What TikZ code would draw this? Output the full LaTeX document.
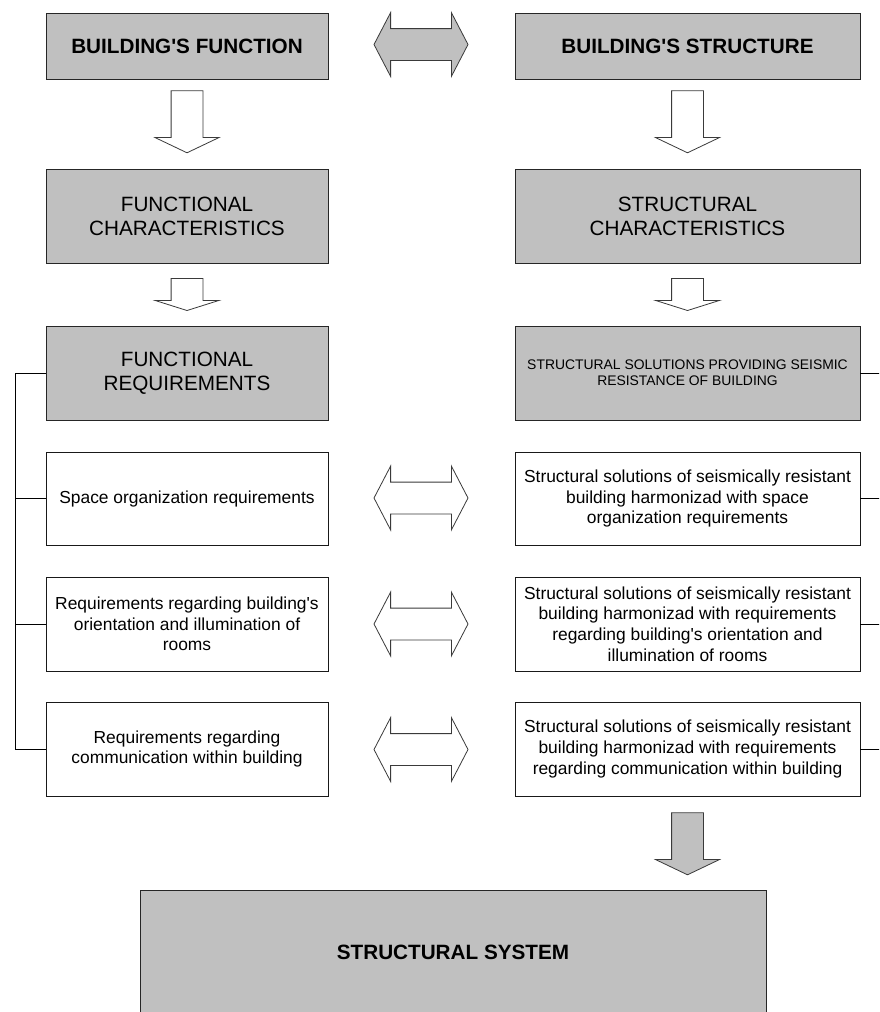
\documentclass[tikz,border=0pt]{standalone}
\usepackage{fontspec}
\setmainfont{Liberation Sans}
\usepackage{xcolor}
\usetikzlibrary{shapes.arrows}
\usetikzlibrary{positioning}

\definecolor{boxgray}{HTML}{C0C0C0}
\definecolor{edgegray}{HTML}{3A3A3A}

\begin{document}
\begin{tikzpicture}[x=1pt,y=-1pt]

	\tikzstyle{gbox} = [rectangle,draw=black!85,line width=0.9pt,fill=boxgray,align=center,inner sep=2pt]
	\tikzstyle{wbox} = [rectangle,draw=black!90,line width=0.9pt,fill=white,align=center,inner sep=2pt,font=\fontsize{17.4}{20.7}\selectfont]
	\tikzstyle{bigtxt} = [font=\fontsize{20.7}{24}\selectfont]
	\tikzstyle{boldtxt} = [font=\bfseries\fontsize{20.7}{24}\selectfont]
	\tikzstyle{downarr} = [single arrow,shape border rotate=270,draw=edgegray,line width=0.8pt,fill=white,inner xsep=15.5pt,inner ysep=0pt,single arrow head extend=16pt]
	\tikzstyle{sidearr} = [double arrow,draw=edgegray,line width=0.8pt,fill=white,inner xsep=0pt,inner ysep=15.5pt,minimum height=94pt,double arrow head extend=16pt,double arrow tip angle=125]
	\tikzstyle{link} = [line width=0.9pt,black]

	\path[use as bounding box,clip] (0,0) rectangle (879,1012);

	% top row
	\node[gbox,boldtxt,minimum width=282pt,minimum height=66pt] (bfun) at (187,46) {BUILDING\textquotesingle S FUNCTION};
	\node[gbox,boldtxt,minimum width=345pt,minimum height=66pt] (bstr) at (687.5,46) {BUILDING\textquotesingle S STRUCTURE};
	\node[sidearr,fill=boxgray] (a0) at (421,44.5) {};

	\node[downarr,minimum height=62pt,single arrow tip angle=129] (d1) at (187,118) {};
	\node[downarr,minimum height=62pt,single arrow tip angle=129] (d2) at (687.5,118) {};

	% characteristics
	\node[gbox,bigtxt,minimum width=282pt,minimum height=94pt] (fch) at (187,216) {FUNCTIONAL\\CHARACTERISTICS};
	\node[gbox,bigtxt,minimum width=345pt,minimum height=94pt] (sch) at (687.5,216) {STRUCTURAL\\CHARACTERISTICS};

	\node[downarr,minimum height=32pt,single arrow tip angle=145] (d3) at (187,292) {};
	\node[downarr,minimum height=32pt,single arrow tip angle=145] (d4) at (687.5,292) {};

	% requirements and solutions
	\node[gbox,bigtxt,minimum width=282pt,minimum height=94pt] (freq) at (187,373) {FUNCTIONAL\\REQUIREMENTS};
	\node[gbox,font=\fontsize{13.9}{15.7}\selectfont,minimum width=345pt,minimum height=94pt] (ssol) at (687.5,373) {STRUCTURAL SOLUTIONS PROVIDING SEISMIC\\RESISTANCE OF BUILDING};

	\node[wbox,minimum width=282pt,minimum height=93pt] (r1) at (187,498.5) {Space organization requirements};
	\node[wbox,minimum width=282pt,minimum height=94pt] (r2) at (187,624) {Requirements regarding building\textquotesingle s\\orientation and illumination of\\rooms};
	\node[wbox,minimum width=282pt,minimum height=94pt] (r3) at (187,749) {Requirements regarding\\communication within building};

	\node[wbox,minimum width=345pt,minimum height=93pt] (s1) at (687.5,498.5) {Structural solutions of seismically resistant\\building harmonizad with space\\organization requirements};
	\node[wbox,minimum width=345pt,minimum height=94pt] (s2) at (687.5,624) {Structural solutions of seismically resistant\\building harmonizad with requirements\\regarding building\textquotesingle s orientation and\\illumination of rooms};
	\node[wbox,minimum width=345pt,minimum height=94pt] (s3) at (687.5,749) {Structural solutions of seismically resistant\\building harmonizad with requirements\\regarding communication within building};

	\node[sidearr] (a1) at (421,498) {};
	\node[sidearr] (a2) at (421,624) {};
	\node[sidearr] (a3) at (421,749.5) {};

	% structural system
	\node[downarr,fill=boxgray,minimum height=62pt,single arrow tip angle=129] (d5) at (687.5,840) {};
	\node[gbox,boldtxt,minimum width=626pt,minimum height=124pt] (ssys) at (453,952) {STRUCTURAL SYSTEM};

	% brackets
	\coordinate (lb) at (15,373);
	\coordinate (rb) at (885,373);
	\draw[link] (freq.west) -- (lb) -- (lb |- r3.west) -- (r3.west);
	\draw[link] (r1.west) -- (r1.west -| lb);
	\draw[link] (r2.west) -- (r2.west -| lb);
	\draw[link] (ssol.east) -- (ssol.east -| rb);
	\draw[link] (s1.east) -- (s1.east -| rb);
	\draw[link] (s2.east) -- (s2.east -| rb);
	\draw[link] (s3.east) -- (s3.east -| rb);

\end{tikzpicture}
\end{document}
